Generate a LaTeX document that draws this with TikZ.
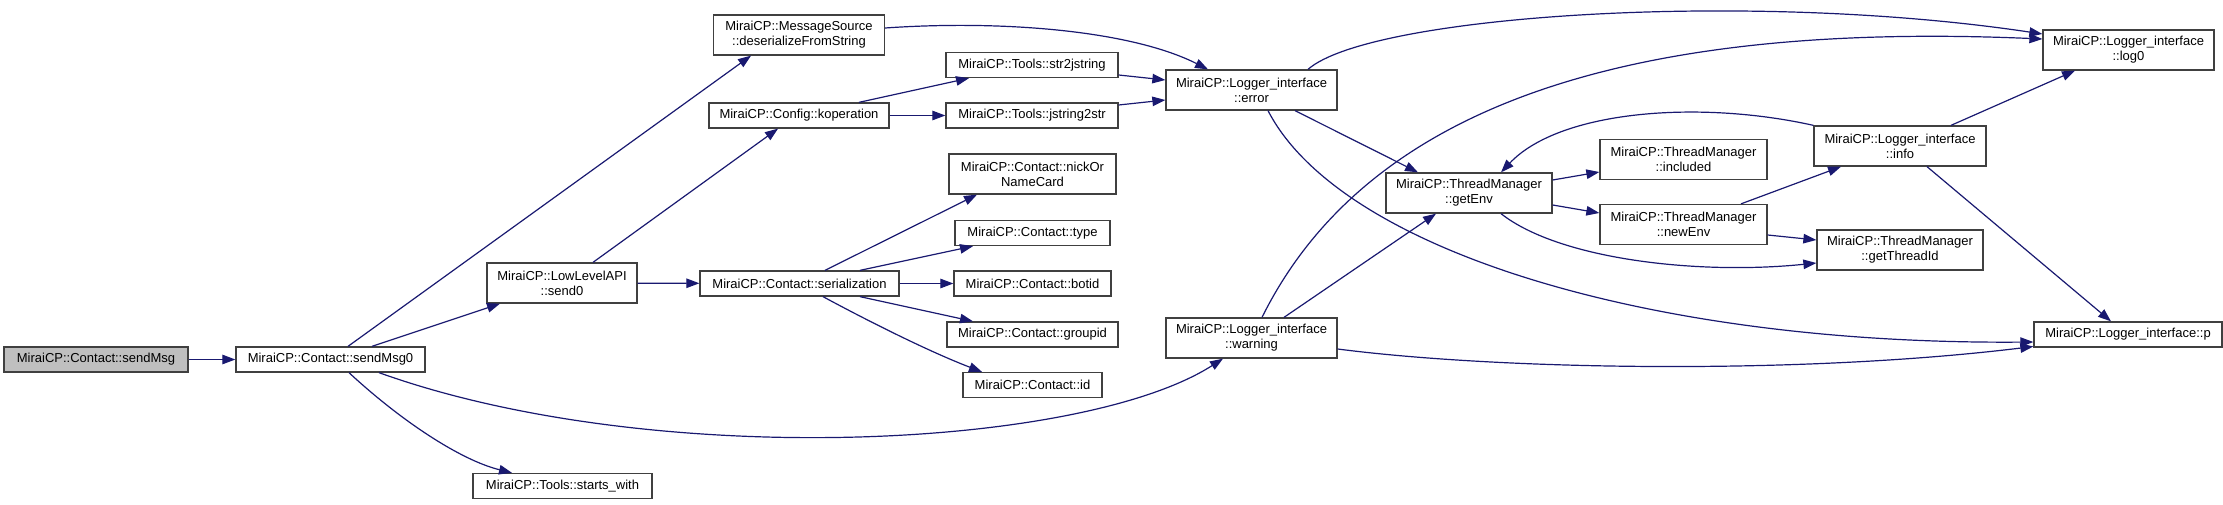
\documentclass[tikz,border=0pt]{standalone}
\usepackage{fontspec}
\setmainfont{Liberation Sans}
\usepackage{xcolor}
\usepackage{tikz}
\usetikzlibrary{arrows.meta}
\definecolor{edgeblue}{RGB}{25,25,112}
\definecolor{curgray}{RGB}{191,191,191}
\tikzset{
  fnbox/.style={rectangle,draw=black!75,fill=white,line width=1.3pt,inner sep=0pt,
                minimum width=#1,minimum height=25pt,align=center,
                font=\fontsize{13}{15}\selectfont},
  fnbox/.default=170pt,
  tall/.style={minimum height=40pt},
  curbox/.style={fill=curgray},
  call/.style={-{Triangle[length=13pt,width=9.5pt]},line width=1.2pt,draw=edgeblue},
}

\begin{document}
\begin{tikzpicture}[x=1pt,y=-1pt]
    \useasboundingbox (0,0) rectangle (2223,505);

    % functions
    \node[fnbox=184pt, curbox] (sendMsg) at (96,359.5) {MiraiCP::Contact::sendMsg};
    \node[fnbox=189pt] (sendMsg0) at (330.5,359.5) {MiraiCP::Contact::sendMsg0};
    \node[fnbox=150pt, tall] (send0) at (562,283) {MiraiCP::LowLevelAPI\\::send0};
    \node[fnbox=179pt] (startsw) at (562.5,486) {MiraiCP::Tools::starts\_with};
    \node[fnbox=171pt, tall] (msgsrc) at (799,35) {MiraiCP::MessageSource\\::deserializeFromString};
    \node[fnbox=180pt] (koper) at (799,115.5) {MiraiCP::Config::koperation};
    \node[fnbox=199pt] (serial) at (799.5,283.5) {MiraiCP::Contact::serialization};
    \node[fnbox=172pt] (str2j) at (1032,65) {MiraiCP::Tools::str2jstring};
    \node[fnbox=172pt] (jstr2s) at (1032,115.5) {MiraiCP::Tools::jstring2str};
    \node[fnbox=167pt, tall] (nick) at (1032.5,174) {MiraiCP::Contact::nickOr\\NameCard};
    \node[fnbox=155pt] (ctype) at (1032.5,233) {MiraiCP::Contact::type};
    \node[fnbox=157pt] (botid) at (1032.5,283.5) {MiraiCP::Contact::botid};
    \node[fnbox=171pt] (groupid) at (1032.5,334.5) {MiraiCP::Contact::groupid};
    \node[fnbox=139pt] (cid) at (1032.5,385) {MiraiCP::Contact::id};
    \node[fnbox=171pt, tall] (lgerror) at (1251.5,90) {MiraiCP::Logger\_interface\\::error};
    \node[fnbox=171pt, tall] (lgwarn) at (1251.5,338) {MiraiCP::Logger\_interface\\::warning};
    \node[fnbox=166pt, tall] (getenv) at (1469,193) {MiraiCP::ThreadManager\\::getEnv};
    \node[fnbox=167pt, tall] (included) at (1683.5,159.5) {MiraiCP::ThreadManager\\::included};
    \node[fnbox=167pt, tall] (newenv) at (1683.5,224.5) {MiraiCP::ThreadManager\\::newEnv};
    \node[fnbox=172pt, tall] (lginfo) at (1900,146) {MiraiCP::Logger\_interface\\::info};
    \node[fnbox=166pt, tall] (threadid) at (1900,250) {MiraiCP::ThreadManager\\::getThreadId};
    \node[fnbox=171pt, tall] (lglog) at (2128.5,50) {MiraiCP::Logger\_interface\\::log0};
    \node[fnbox=188pt] (lgp) at (2128,334.5) {MiraiCP::Logger\_interface::p};

    % calls
    \draw[call] (sendMsg) -- (sendMsg0);
    \draw[call] ([xshift=17.5pt]sendMsg0.north) -- ([xshift=-48pt]msgsrc.south);
    \draw[call] ([xshift=41.5pt]sendMsg0.north) -- ([xshift=-62pt]send0.south);
    \draw[call] ([xshift=48.5pt]sendMsg0.south) .. controls (650,470) and (1080,450) .. ([xshift=-28.5pt]lgwarn.south);
    \draw[call] ([xshift=18.5pt]sendMsg0.south) .. controls (400,420) and (460,460) .. ([xshift=-50.5pt]startsw.north);
    \draw[call] ([xshift=31pt]send0.north) -- ([xshift=-21pt]koper.south);
    \draw[call] (send0) -- (serial);
    \draw[call] ([yshift=7pt]msgsrc.east) .. controls (1000,20) and (1130,30) .. ([xshift=-43.5pt]lgerror.north);
    \draw[call] ([xshift=60pt]koper.north) -- ([xshift=-63pt]str2j.south);
    \draw[call] (koper) -- (jstr2s);
    \draw[call] ([yshift=-10pt]str2j.east) -- ([yshift=10pt]lgerror.west);
    \draw[call] ([yshift=10.5pt]jstr2s.east) -- ([yshift=-10pt]lgerror.west);
    \draw[call] ([xshift=25.5pt]serial.north) -- ([xshift=-55.5pt]nick.south);
    \draw[call] ([xshift=60.5pt]serial.north) -- ([xshift=-59.5pt]ctype.south);
    \draw[call] (serial) -- (botid);
    \draw[call] ([xshift=60.5pt]serial.south) -- ([xshift=-59.5pt]groupid.north);
    \draw[call] ([xshift=23.5pt]serial.south) .. controls (870,322) and (930,352) .. ([xshift=-50.5pt]cid.north);
    \draw[call] ([xshift=56.5pt]lgerror.north) .. controls (1370,15) and (1750,-10) .. ([yshift=16pt]lglog.west);
    \draw[call] ([xshift=43.5pt]lgerror.south) -- ([xshift=-51pt]getenv.north);
    \draw[call] ([xshift=16.5pt]lgerror.south) .. controls (1340,250) and (1650,345) .. ([yshift=-7.5pt]lgp.west);
    \draw[call] ([xshift=10.5pt]lgwarn.north) .. controls (1360,120) and (1600,20) .. ([yshift=11pt]lglog.west);
    \draw[call] ([xshift=32.5pt]lgwarn.north) -- ([xshift=-33pt]getenv.south);
    \draw[call] ([yshift=-11pt]lgwarn.east) .. controls (1500,370) and (1800,375) .. ([yshift=-12pt]lgp.west);
    \draw[call] ([yshift=13pt]getenv.east) -- ([yshift=-12.5pt]included.west);
    \draw[call] ([yshift=-12pt]getenv.east) -- ([yshift=11.5pt]newenv.west);
    \draw[call] ([xshift=32pt]getenv.south) .. controls (1560,260) and (1700,275) .. ([yshift=-13pt]threadid.west);
    \draw[call] ([xshift=57.5pt]newenv.north) -- ([xshift=-59pt]lginfo.south);
    \draw[call] ([yshift=-10.5pt]newenv.east) -- ([yshift=10pt]threadid.west);
    \draw[call] (lginfo.north west) .. controls (1700,100) and (1560,110) .. ([xshift=32pt]getenv.north);
    \draw[call] ([xshift=51pt]lginfo.north) -- ([xshift=-53.5pt]lglog.south);
    \draw[call] ([xshift=27pt]lginfo.south) -- ([xshift=-17pt]lgp.north);
\end{tikzpicture}
\end{document}
